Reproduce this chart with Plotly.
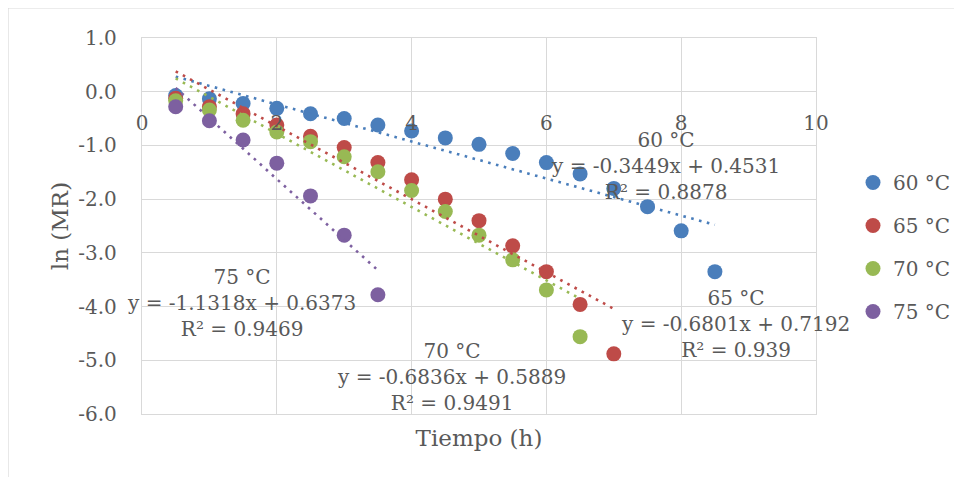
import plotly.graph_objects as go

# ---- data ----
series_names = ["60 °C", "65 °C", "70 °C", "75 °C"]
x_60 = [0.5, 1, 1.5, 2, 2.5, 3, 3.5, 4, 4.5, 5, 5.5, 6, 6.5, 7, 7.5, 8, 8.5]
y_60 = [-0.07, -0.13, -0.22, -0.31, -0.41, -0.50, -0.62, -0.73, -0.86, -0.98,
        -1.15, -1.32, -1.53, -1.80, -2.14, -2.59, -3.35]
x_65 = [0.5, 1, 1.5, 2, 2.5, 3, 3.5, 4, 4.5, 5, 5.5, 6, 6.5, 7]
y_65 = [-0.12, -0.28, -0.41, -0.62, -0.83, -1.04, -1.32, -1.64, -2.00, -2.40,
        -2.87, -3.35, -3.96, -4.88]
x_70 = [0.5, 1, 1.5, 2, 2.5, 3, 3.5, 4, 4.5, 5, 5.5, 6, 6.5]
y_70 = [-0.17, -0.34, -0.53, -0.75, -0.93, -1.21, -1.49, -1.84, -2.23, -2.67,
        -3.13, -3.69, -4.56]
x_75 = [0.5, 1, 1.5, 2, 2.5, 3, 3.5]
y_75 = [-0.28, -0.54, -0.90, -1.33, -1.94, -2.67, -3.78]

# trendline coefficients (from the chart's equations)
slopes = [-0.3449, -0.6801, -0.6836, -1.1318]
intercepts = [0.4531, 0.7192, 0.5889, 0.6373]
r2_values = ["0.8878", "0.939", "0.9491", "0.9469"]

# label anchor positions (data coords)
label_x = [7.76, 8.80, 4.585, 1.47]
label_y = [-1.385, -4.32, -5.307, -3.93]

colors = ["#4A7EBB", "#BE4B48", "#98B954", "#7D60A0"]
text_color = "#595959"
grid_color = "#D9D9D9"
font_family = "DejaVu Serif"

y_tickvals = [1, 0, -1, -2, -3, -4, -5, -6]
y_ticktext = ["1.0", "0.0", "-1.0", "-2.0", "-3.0", "-4.0", "-5.0", "-6.0"]
x_tickvals = [0, 2, 4, 6, 8, 10]
x_ticktext = ["0", "2", "4", "6", "8", "10"]

xs = [x_60, x_65, x_70, x_75]
ys = [y_60, y_65, y_70, y_75]

fig = go.Figure()

# trendlines (on overlay x-axis so that axis is drawn)
for i in range(4):
    tx = [xs[i][0], xs[i][-1]]
    ty = [slopes[i] * v + intercepts[i] for v in tx]
    fig.add_trace(go.Scatter(
        x=tx, y=ty, mode="lines", xaxis="x2", yaxis="y",
        line=dict(color=colors[i], width=2.6, dash="2.6px,5.5px"),
        showlegend=False, hoverinfo="skip"))

for i in range(4):
    fig.add_trace(go.Scatter(
        x=xs[i], y=ys[i], mode="markers", name=series_names[i],
        legendgroup=series_names[i],
        marker=dict(color=colors[i], size=15, line=dict(width=0))))

annotations = []
for i in range(4):
    m = slopes[i]
    b = intercepts[i]
    txt = f"{series_names[i]}<br>y = {m:.4f}x + {b:.4f}<br>R² = {r2_values[i]}"
    annotations.append(dict(
        x=label_x[i], y=label_y[i], xref="x", yref="y", text=txt,
        showarrow=False, xanchor="center", yanchor="middle", align="center",
        font=dict(family=font_family, size=20, color=text_color)))

# page has an 8px body margin; figure coords = page coords - 8
W, H = 954, 469
L, T = 134, 30
R = W - 808
B = H - 406
pw, ph = W - L - R, H - T - B

fig.update_layout(
    width=W, height=H,
    margin=dict(l=L, r=R, t=T, b=B, autoexpand=False),
    paper_bgcolor="white", plot_bgcolor="white",
    font=dict(family=font_family, size=20, color=text_color),
    xaxis=dict(
        range=[0, 10], tickvals=x_tickvals, showticklabels=False,
        showgrid=True, gridcolor=grid_color, gridwidth=1.3,
        zeroline=False, showline=True, linecolor=grid_color, linewidth=1.3,
        mirror=True, ticks="",
        title=dict(text="Tiempo (h)", standoff=15,
                   font=dict(family=font_family, size=23, color=text_color)),
        automargin=False),
    xaxis2=dict(
        overlaying="x", matches="x", anchor="free", position=6 / 7,
        range=[0, 10], tickvals=x_tickvals, ticktext=x_ticktext,
        showgrid=False, zeroline=False, showline=False,
        ticks="outside", ticklen=13, tickcolor="rgba(0,0,0,0)",
        tickfont=dict(family=font_family, size=20, color=text_color),
        automargin=False),
    yaxis=dict(
        range=[-6, 1], tickvals=y_tickvals, ticktext=y_ticktext,
        showgrid=True, gridcolor=grid_color, gridwidth=1.3,
        zeroline=True, zerolinecolor=grid_color, zerolinewidth=1.3,
        showline=True, linecolor=grid_color, linewidth=1.3, mirror=True,
        ticks="outside", ticklen=20, tickcolor="rgba(0,0,0,0)",
        tickfont=dict(family=font_family, size=20, color=text_color),
        title=dict(text="ln (MR)", standoff=3,
                   font=dict(family=font_family, size=23, color=text_color)),
        automargin=False),
    legend=dict(
        x=(845 - L) / pw, y=(H - B - 239) / ph, xanchor="left", yanchor="middle",
        font=dict(family=font_family, size=20, color=text_color),
        tracegroupgap=14, bgcolor="rgba(0,0,0,0)", itemwidth=30),
    annotations=annotations,
    shapes=[dict(type="rect", xref="paper", yref="paper",
                 x0=(0 - L) / pw, x1=(980 - L) / pw,
                 y0=(H - B - 500) / ph, y1=(H - B - 0) / ph,
                 line=dict(color=grid_color, width=1.2), layer="below")],
)

fig.write_html("out.html")
